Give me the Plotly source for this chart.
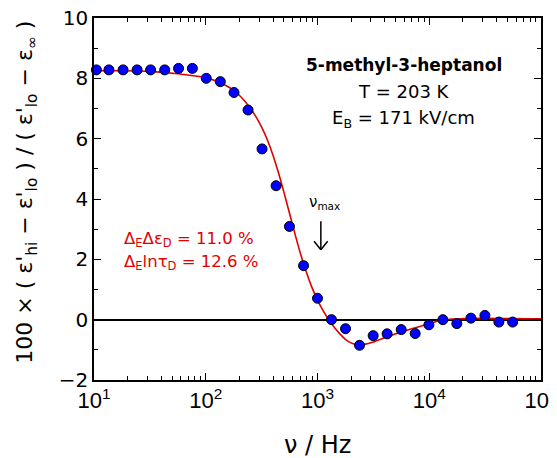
import plotly.graph_objects as go

# Measured data points
nu = [10.5, 13.6, 18.2, 24.3, 32.1, 42.9, 57.1, 75.9, 101, 135, 179, 239, 319, 426,
      561, 750, 1000, 1334, 1782, 2377, 3148, 4198, 5610, 7482, 9931, 13240, 17660,
      23600, 31480, 41980, 55720]
signal = [8.28, 8.28, 8.28, 8.28, 8.28, 8.28, 8.33, 8.33, 8.0, 7.89, 7.53, 6.95, 5.66, 4.44,
          3.09, 1.79, 0.71, 0.0, -0.30, -0.85, -0.53, -0.47, -0.33, -0.46, -0.17, 0.0, -0.13,
          0.05, 0.14, -0.08, -0.08]

# Fit curve (log10 of frequency, value)
fit_log_nu = [1.0, 1.25, 1.5, 1.75, 2.0, 2.1, 2.2, 2.25, 2.3, 2.35, 2.4, 2.45, 2.5, 2.55, 2.6,
              2.65, 2.7, 2.75, 2.8, 2.85, 2.9, 2.95, 3.0, 3.05, 3.1, 3.15, 3.2, 3.25, 3.3,
              3.36, 3.42, 3.5, 3.6, 3.7, 3.8, 3.9, 4.0, 4.1, 4.2, 4.35, 5.0]
fit_val = [8.25, 8.25, 8.23, 8.15, 8.02, 7.9, 7.72, 7.6, 7.44, 7.24, 7.0, 6.72, 6.38, 5.97, 5.47,
           4.88, 4.22, 3.52, 2.82, 2.16, 1.58, 1.07, 0.65, 0.3, 0.0, -0.25, -0.47, -0.65, -0.77,
           -0.84, -0.82, -0.74, -0.6, -0.47, -0.35, -0.24, -0.13, -0.03, 0.02, 0.04, 0.03]
fit_nu = [10 ** v for v in fit_log_nu]

x_tickvals = [10, 100, 1000, 10000, 100000]
x_ticktext = ["10<sup>1</sup>", "10<sup>2</sup>", "10<sup>3</sup>", "10<sup>4</sup>", "10<sup>5</sup>"]
y_tickvals = [-2, 0, 2, 4, 6, 8, 10]

FONT = "DejaVu Sans, Liberation Sans, Arial, sans-serif"
FONT_X = "Liberation Sans, Arial, sans-serif"

fig = go.Figure()
fig.add_trace(go.Scatter(x=fit_nu, y=fit_val, mode="lines",
                         line=dict(color="#e00000", width=1.6, shape="spline", smoothing=0.6),
                         showlegend=False, hoverinfo="skip"))
fig.add_trace(go.Scatter(x=nu, y=signal, mode="markers",
                         marker=dict(size=10, color="#0000ff", line=dict(color="black", width=1)),
                         showlegend=False, cliponaxis=False))

axis_common = dict(showline=True, linecolor="black", linewidth=1.5, mirror="ticks", ticks="inside",
                   ticklen=7, tickwidth=1.3, tickcolor="black", showgrid=False, automargin=False,
                   ticklabeloverflow="allow")

fig.update_xaxes(type="log", range=[1, 5], tickvals=x_tickvals, ticktext=x_ticktext,
                 tickfont=dict(family=FONT_X, size=22, color="black"),
                 minor=dict(ticks="inside", ticklen=4, tickwidth=1, tickcolor="black", dtick="D1", showgrid=False),
                 zeroline=False, **axis_common)
fig.update_yaxes(range=[-2, 10], tickvals=y_tickvals,
                 tickfont=dict(family=FONT, size=20, color="black"),
                 minor=dict(ticks="inside", ticklen=4, tickwidth=1, tickcolor="black", dtick=1, showgrid=False),
                 zeroline=True, zerolinecolor="black", zerolinewidth=2, **axis_common)

# axis titles
fig.add_annotation(xref="paper", yref="paper", x=-0.15, y=0.52, textangle=-90, showarrow=False,
                   xanchor="center", yanchor="middle",
                   text="100 × ( ε'<sub>hi</sub> − ε'<sub>lo</sub> ) / ( ε'<sub>lo</sub> − ε<sub>∞</sub> )",
                   font=dict(family=FONT, size=22, color="black"))
fig.add_annotation(xref="paper", yref="paper", x=0.5, y=-0.18, showarrow=False,
                   xanchor="center", yanchor="middle",
                   text="ν / Hz", font=dict(family=FONT, size=24, color="black"))

fig.add_annotation(x=3.773, y=8.45, xref="x", yref="y", text="<b>5-methyl-3-heptanol</b>", showarrow=False,
                   font=dict(family=FONT, size=17, color="black"))
fig.add_annotation(x=3.773, y=7.56, xref="x", yref="y", text="T = 203 K", showarrow=False,
                   font=dict(family=FONT, size=18, color="black"))
fig.add_annotation(x=3.773, y=6.66, xref="x", yref="y", text="E<sub>B</sub> = 171 kV/cm", showarrow=False,
                   font=dict(family=FONT, size=18, color="black"))

fig.add_annotation(x=1.25, y=2.66, xref="x", yref="y", xanchor="left",
                   text="Δ<sub>E</sub>Δε<sub>D</sub> = 11.0 %", showarrow=False,
                   font=dict(family=FONT, size=16.5, color="#e00000"))
fig.add_annotation(x=1.25, y=1.88, xref="x", yref="y", xanchor="left",
                   text="Δ<sub>E</sub>lnτ<sub>D</sub> = 12.6 %", showarrow=False,
                   font=dict(family=FONT, size=16.5, color="#e00000"))

fig.add_annotation(x=2.905, y=3.9, xref="x", yref="y", xanchor="left",
                   text="ν<sub>max</sub>", showarrow=False,
                   font=dict(family=FONT, size=15, color="black"))

# arrow pointing at nu_max
for dx, dy in [(0, -30), (-8, -10), (8, -10)]:
    fig.add_annotation(x=3.03, y=2.32, xref="x", yref="y", text="", showarrow=True,
                       arrowhead=0, arrowwidth=1.5, arrowcolor="black", ax=dx, ay=dy,
                       standoff=0, startstandoff=0)

# page body has an 8 px margin: shrink figure and margins to keep plot area in place
fig.update_layout(width=549, height=450, margin=dict(l=86, r=16, t=10, b=78),
                  plot_bgcolor="white", paper_bgcolor="white",
                  font=dict(family=FONT, color="black"))

fig.write_html("out.html")
